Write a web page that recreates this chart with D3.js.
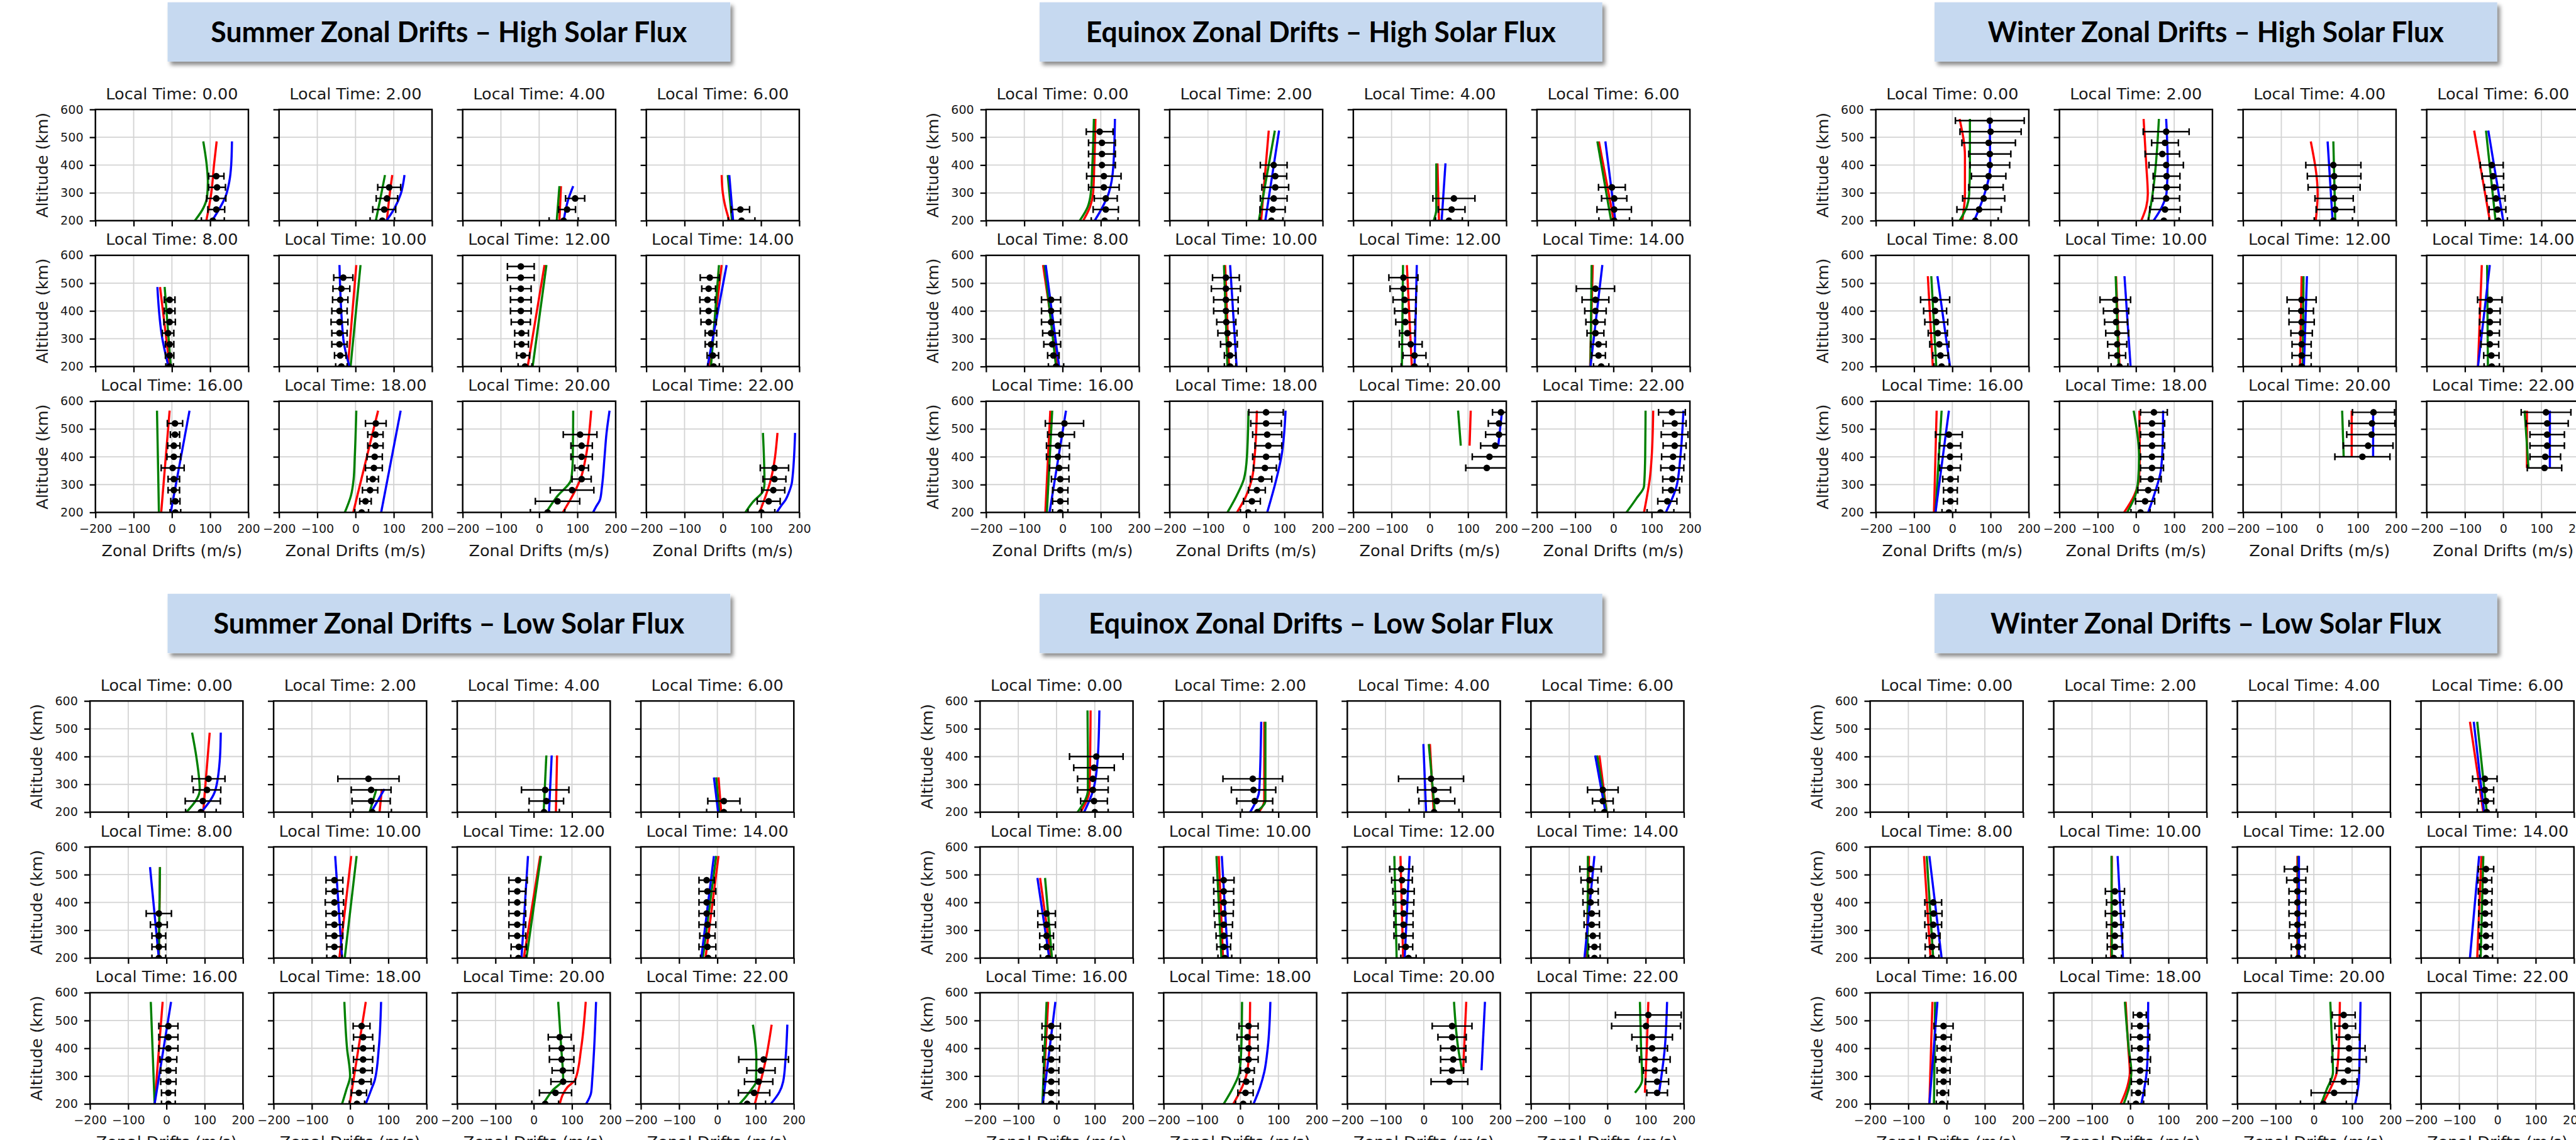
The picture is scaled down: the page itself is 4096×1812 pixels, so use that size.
<!DOCTYPE html>
<html>
<head>
<meta charset="utf-8">
<script src="https://cdn.jsdelivr.net/npm/d3@7"></script>
<style>
  body { margin: 0; background: #fff; }
  svg { display: block; }
</style>
</head>
<body>
<div id="chart"></div>
<script>
// chart data (altitude km, zonal drift m/s)
const localTimes = [0, 2, 4, 6, 8, 10, 12, 14, 16, 18, 20, 22];
const xTicks = [-200, -100, 0, 100, 200];
const yTicks = [200, 300, 400, 500, 600];
const panelTitles = [
  'Summer Zonal Drifts \u2013 High Solar Flux',
  'Equinox Zonal Drifts \u2013 High Solar Flux',
  'Winter Zonal Drifts \u2013 High Solar Flux',
  'Summer Zonal Drifts \u2013 Low Solar Flux',
  'Equinox Zonal Drifts \u2013 Low Solar Flux',
  'Winter Zonal Drifts \u2013 Low Solar Flux'
];

// ---- Summer, high flux
const summerHighRed = [
  [[200,90],[300,103],[400,110],[485,117]],
  [[200,82],[280,88],[364,96]],
  [[200,53],[324,57]],
  [[200,17],[260,5],[300,0],[364,-3]],
  [[200,-6],[486,-31]],
  [[200,-20],[565,2]],
  [[200,-30],[565,14]],
  [[200,-34],[565,-3]],
  [[200,-28],[566,-6]],
  [[200,-6],[566,59]],
  [[200,62],[262,88],[320,108],[400,122],[566,136]],
  [[200,96],[310,124],[486,143]]
];
const summerHighGreen = [
  [[200,60],[245,82],[286,92],[340,94],[400,91],[485,82]],
  [[200,53],[280,65],[364,77]],
  [[200,46],[324,53]],
  [[200,24],[364,13]],
  [[200,-3],[486,-19]],
  [[200,-13],[565,13]],
  [[200,-17],[565,19]],
  [[200,-31],[565,-10]],
  [[200,-34],[350,-36],[566,-39]],
  [[200,-28],[260,-12],[320,-5],[400,-2],[566,2]],
  [[200,18],[256,46],[320,84],[400,88],[566,89]],
  [[200,59],[238,79],[276,105],[303,109],[486,105]]
];
const summerHighBlue = [
  [[200,105],[245,125],[286,140],[340,150],[400,155],[485,157]],
  [[200,81],[245,102],[295,118],[364,128]],
  [[200,64],[276,76],[324,89]],
  [[200,27],[364,17]],
  [[200,-9],[300,-25],[486,-38]],
  [[200,-16],[300,-32],[565,-42]],
  null,
  [[200,-40],[565,10]],
  [[200,-3],[566,46]],
  [[200,67],[566,118]],
  [[200,141],[221,149],[245,159],[290,164],[400,171],[483,176],[566,184]],
  [[200,141],[221,151],[245,164],[276,174],[310,181],[486,189]]
];
const summerHighObs = [
  [[200,107,30],[240,116,22],[280,116,25],[320,118,22],[360,116,20]],
  [[200,70,32],[240,75,30],[280,82,28],[320,88,30]],
  [[200,64,38],[240,73,22],[280,94,25]],
  [[200,49,35],[240,46,24]],
  [[200,-6,10],[240,-6,11],[280,-6,11],[320,-10,15],[360,-6,15],[400,-6,14],[440,-6,14]],
  [[200,-37,15],[240,-40,15],[280,-42,20],[320,-42,20],[360,-42,22],[400,-42,20],[440,-40,20],[480,-37,22],[520,-32,25]],
  [[200,-37,18],[240,-42,17],[280,-46,18],[320,-46,18],[360,-48,25],[400,-48,27],[440,-48,27],[480,-48,27],[520,-48,35],[560,-48,35]],
  [[200,-24,15],[240,-26,15],[280,-31,15],[320,-31,15],[360,-37,20],[400,-37,22],[440,-40,20],[480,-37,18],[520,-34,25]],
  [[200,9,14],[240,9,12],[280,5,15],[320,5,15],[360,2,30],[400,5,18],[440,5,16],[480,8,12],[520,8,20]],
  [[200,16,18],[240,26,15],[280,38,20],[320,45,15],[360,48,22],[400,50,20],[440,52,20],[480,52,20],[520,53,27]],
  [[200,22,45],[240,48,58],[280,86,57],[320,111,25],[360,111,18],[400,111,28],[440,111,28],[480,107,44]],
  [[200,101,35],[240,120,30],[280,132,30],[320,135,30],[360,135,37]]
];

// ---- Equinox, high flux
const equinoxHighRed = [
  [[200,54],[250,72],[300,80],[400,83],[566,86]],
  [[200,39],[524,59]],
  [[200,24],[406,20]],
  [[200,1],[485,-38]],
  [[200,-12],[565,-51]],
  [[200,-45],[565,-55]],
  [[200,-47],[565,-60]],
  [[200,-61],[565,-54]],
  [[200,-45],[566,-32]],
  [[200,-24],[260,0],[320,15],[400,22],[566,28]],
  [[440,104],[566,107]],
  [[200,80],[260,88],[320,95],[400,100],[566,104]]
];
const equinoxHighGreen = [
  [[200,45],[250,66],[300,74],[400,78],[566,82]],
  [[200,33],[524,75]],
  [[200,10],[240,17],[406,17]],
  [[200,-6],[485,-42]],
  [[200,-17],[565,-47]],
  [[200,-49],[565,-58]],
  [[200,-73],[565,-70]],
  [[200,-60],[565,-57]],
  [[200,-41],[566,-27]],
  [[200,-49],[260,-25],[320,-6],[400,2],[566,6]],
  [[440,81],[566,74]],
  [[200,34],[250,60],[294,80],[400,83],[566,84]]
];
const equinoxHighBlue = [
  [[200,84],[250,105],[300,121],[400,133],[566,137]],
  [[200,50],[524,86]],
  [[200,31],[406,41]],
  [[200,5],[485,-21]],
  [[200,-9],[565,-44]],
  [[200,-25],[565,-42]],
  [[200,-40],[565,-34]],
  [[200,-60],[565,-29]],
  [[200,-34],[566,9]],
  [[200,55],[320,79],[400,92],[566,103]],
  [[440,179],[566,189]],
  [[200,137],[294,165],[400,175],[566,183]]
];
const equinoxHighObs = [
  [[200,110,35],[240,113,33],[280,113,30],[320,108,40],[360,108,45],[400,103,35],[440,103,35],[480,103,35],[520,97,35]],
  [[200,66,30],[240,69,33],[280,72,35],[320,76,35],[360,76,30],[400,72,35]],
  [[200,50,35],[240,57,35],[280,63,55]],
  [[200,2,40],[240,2,45],[280,2,33],[320,-4,35]],
  [[200,-17,20],[240,-24,15],[280,-27,22],[320,-30,22],[360,-30,25],[400,-30,25],[440,-30,25]],
  [[200,-42,15],[240,-42,15],[280,-45,22],[320,-49,25],[360,-52,25],[400,-53,32],[440,-53,32],[480,-53,38],[520,-53,35]],
  [[200,-40,35],[240,-40,30],[280,-50,30],[320,-59,20],[360,-64,25],[400,-64,28],[440,-66,30],[480,-69,35],[520,-69,38]],
  [[200,-32,20],[240,-39,18],[280,-39,20],[320,-47,22],[360,-47,25],[400,-47,28],[440,-47,35],[480,-47,50]],
  [[200,-6,20],[240,-6,20],[280,-6,20],[320,-6,23],[360,-9,25],[400,-12,30],[440,-12,30],[480,-4,35],[520,5,50]],
  [[200,5,20],[240,15,22],[280,28,22],[320,39,28],[360,49,30],[400,52,35],[440,58,35],[480,55,38],[520,52,40],[560,52,45]],
  [[360,149,55],[400,156,45],[440,171,38],[480,181,35],[520,181,28],[560,186,22]],
  [[200,123,35],[240,141,25],[280,151,22],[320,154,25],[360,154,30],[400,156,30],[440,160,30],[480,160,35],[520,160,30],[560,153,35]]
];

// ---- Winter, high flux
const winterHighRed = [
  [[200,26],[295,33],[432,33],[566,19]],
  [[200,14],[250,27],[295,31],[400,27],[566,20]],
  [[200,-10],[295,-5],[485,-23]],
  [[200,-35],[524,-76]],
  [[200,-51],[525,-64]],
  [[200,-43],[525,-52]],
  [[200,-51],[525,-47]],
  [[200,-66],[565,-56]],
  [[200,-48],[566,-41]],
  [[200,-31],[260,-5],[320,8],[400,10],[566,9]],
  [[400,84],[566,84]],
  [[360,62],[566,62]]
];
const winterHighGreen = [
  [[200,19],[250,38],[295,44],[400,46],[566,46]],
  [[200,32],[300,44],[566,60]],
  [[200,41],[485,36]],
  [[200,-20],[524,-45]],
  [[200,-42],[525,-55]],
  [[200,-45],[525,-53]],
  [[200,-44],[525,-42]],
  [[200,-40],[565,-42]],
  [[200,-44],[566,-28]],
  [[200,-23],[260,-2],[320,6],[400,8],[566,-6]],
  [[400,63],[566,59]],
  [[360,66],[566,56]]
];
const winterHighBlue = [
  [[200,57],[295,84],[395,99],[566,98]],
  [[200,46],[250,68],[300,80],[400,83],[566,79]],
  [[200,34],[485,21]],
  [[200,0],[524,-39]],
  [[200,-6],[525,-39]],
  [[200,-14],[525,-30]],
  [[200,-41],[525,-33]],
  [[200,-66],[565,-35]],
  [[200,-44],[566,-9]],
  [[200,32],[269,49],[350,65],[450,70],[566,71]],
  [[400,140],[566,140]],
  [[360,122],[566,122]]
];
const winterHighObs = [
  [[200,60,60],[240,70,58],[280,82,55],[320,88,45],[360,95,45],[400,98,52],[440,98,55],[480,95,70],[520,100,80],[560,98,90]],
  [[200,73,40],[240,76,40],[280,79,35],[320,80,35],[360,80,35],[400,79,45],[440,69,45],[480,76,35],[520,79,60]],
  [[200,36,50],[240,41,50],[280,38,50],[320,38,68],[360,38,70],[400,36,72]],
  [[200,-13,24],[240,-15,22],[280,-19,24],[320,-24,25],[360,-27,28],[400,-30,30]],
  [[200,-28,20],[240,-31,20],[280,-34,25],[320,-38,25],[360,-42,30],[400,-45,30],[440,-45,38]],
  [[200,-43,22],[240,-49,22],[280,-49,25],[320,-49,30],[360,-52,30],[400,-52,33],[440,-54,40]],
  [[200,-47,25],[240,-47,25],[280,-47,25],[320,-47,28],[360,-47,33],[400,-48,32],[440,-47,38]],
  [[200,-30,20],[240,-31,20],[280,-35,23],[320,-35,25],[360,-35,27],[400,-35,27],[440,-35,32]],
  [[200,-9,18],[240,-5,18],[280,-5,18],[320,-5,20],[360,-6,27],[400,-6,30],[440,-6,28],[480,-9,35]],
  [[200,12,25],[240,24,25],[280,32,27],[320,39,27],[360,42,30],[400,42,30],[440,42,33],[480,42,30],[520,42,33],[560,47,35]],
  [[400,112,72],[440,127,65],[480,136,65],[520,137,60],[560,141,55]],
  [[360,108,45],[400,110,40],[440,115,45],[480,115,45],[520,115,55],[560,112,65]]
];

// ---- Summer, low flux
const summerLowRed = [
  [[200,96],[486,113]],
  [[200,77],[283,83]],
  [[200,58],[404,61]],
  [[200,10],[325,3]],
  [[200,-20],[527,-17]],
  [[200,-28],[567,3]],
  [[200,-26],[567,17]],
  [[200,-31],[567,3]],
  [[200,-31],[567,-10]],
  [[200,-1],[567,41]],
  [[200,68],[260,88],[288,109],[400,124],[567,136]],
  [[200,98],[362,127],[485,142]]
];
const summerLowGreen = [
  [[200,52],[280,87],[400,78],[486,67]],
  [[200,51],[283,69]],
  [[200,26],[404,33]],
  [[200,5],[325,-3]],
  [[200,-20],[527,-17]],
  [[200,-14],[567,17]],
  [[200,-19],[567,19]],
  [[200,-38],[567,-3]],
  [[200,-31],[567,-41]],
  [[200,-21],[250,-10],[301,0],[400,-8],[567,-15]],
  [[200,25],[250,50],[288,77],[400,72],[567,64]],
  [[200,58],[225,74],[252,89],[280,101],[362,102],[485,93]]
];
const summerLowBlue = [
  [[200,91],[280,128],[400,140],[486,142]],
  [[200,55],[283,90]],
  [[200,40],[404,47]],
  [[200,2],[325,-9]],
  [[200,-20],[527,-43]],
  [[200,-21],[567,-39]],
  [[200,-32],[567,-15]],
  [[200,-42],[567,-9]],
  [[200,-31],[567,12]],
  [[200,41],[250,55],[288,65],[400,75],[567,81]],
  [[200,137],[240,150],[288,153],[400,158],[567,163]],
  [[200,140],[242,162],[280,172],[356,178],[485,183]]
];
const summerLowObs = [
  [[200,90,40],[240,95,46],[280,106,36],[320,110,43]],
  [[200,58,50],[240,55,50],[280,55,52],[320,48,80]],
  [[200,27,40],[240,33,45],[280,30,62]],
  [[200,17,45],[240,17,42]],
  [[200,-20,18],[240,-20,18],[280,-20,18],[320,-20,22],[360,-20,33]],
  [[200,-41,20],[240,-41,20],[280,-41,22],[320,-41,22],[360,-41,22],[400,-41,24],[440,-41,22],[480,-41,22]],
  [[200,-40,20],[240,-39,20],[280,-43,22],[320,-43,22],[360,-43,22],[400,-43,22],[440,-43,22],[480,-41,24]],
  [[200,-24,20],[240,-26,22],[280,-26,20],[320,-26,22],[360,-28,20],[400,-28,20],[440,-26,22],[480,-28,20]],
  [[200,5,18],[240,5,18],[280,5,20],[320,5,20],[360,5,22],[400,5,25],[440,5,25],[480,5,25]],
  [[200,18,20],[240,23,20],[280,30,25],[320,33,25],[360,34,25],[400,34,28],[440,34,25],[480,30,22]],
  [[200,30,35],[240,57,42],[280,77,32],[320,76,28],[360,73,32],[400,73,32],[440,68,30]],
  [[200,78,48],[240,96,41],[280,108,37],[320,114,37],[360,121,65]]
];

// ---- Equinox, low flux
const equinoxLowRed = [
  [[200,63],[280,86],[400,88],[566,89]],
  [[200,49],[241,63],[525,63]],
  [[200,26],[445,16]],
  [[200,-2],[404,-21]],
  [[200,-14],[488,-43]],
  [[200,-45],[567,-56]],
  [[200,-54],[567,-61]],
  [[200,-55],[567,-48]],
  [[200,-36],[567,-22]],
  [[200,-18],[260,5],[314,18],[400,24],[567,26]],
  [[321,103],[567,111]],
  [[240,98],[400,103],[567,107]]
];
const equinoxLowGreen = [
  [[200,55],[280,82],[400,82],[566,81]],
  [[200,41],[241,66],[525,66]],
  [[200,29],[445,13]],
  [[200,-2],[404,-27]],
  [[200,-12],[488,-30]],
  [[200,-49],[567,-62]],
  [[200,-71],[567,-77]],
  [[200,-52],[567,-51]],
  [[200,-37],[567,-26]],
  [[200,-43],[260,-18],[314,-2],[400,3],[567,5]],
  [[321,100],[400,90],[567,79]],
  [[240,72],[288,91],[400,88],[567,85]]
];
const equinoxLowBlue = [
  [[200,72],[280,96],[400,108],[566,112]],
  [[200,26],[280,50],[525,55]],
  [[200,6],[445,-1]],
  [[200,-5],[404,-32]],
  [[200,-19],[488,-50]],
  [[200,-32],[567,-48]],
  [[200,-50],[567,-37]],
  [[200,-60],[567,-34]],
  [[200,-36],[567,-3]],
  [[200,35],[260,52],[314,63],[400,72],[567,79]],
  [[321,151],[567,160]],
  [[240,135],[400,150],[567,156]]
];
const equinoxLowObs = [
  [[200,100,35],[240,98,35],[280,95,40],[320,95,40],[360,98,53],[400,104,70]],
  [[200,45,40],[240,38,47],[280,35,58],[320,33,78]],
  [[200,27,65],[240,34,47],[280,27,43],[320,19,85]],
  [[200,-8,25],[240,-12,27],[280,-12,40]],
  [[200,-22,20],[240,-26,18],[280,-26,18],[320,-26,23],[360,-26,23]],
  [[200,-40,18],[240,-43,18],[280,-43,20],[320,-43,23],[360,-43,25],[400,-43,26],[440,-43,26],[480,-43,27]],
  [[200,-40,20],[240,-47,18],[280,-53,25],[320,-53,25],[360,-53,25],[400,-53,27],[440,-53,28],[480,-57,27],[520,-59,30]],
  [[200,-34,15],[240,-34,15],[280,-38,18],[320,-41,20],[360,-41,20],[400,-44,20],[440,-44,20],[480,-47,22],[520,-44,28]],
  [[200,-14,20],[240,-14,20],[280,-14,20],[320,-14,20],[360,-14,22],[400,-14,22],[440,-14,24],[480,-14,24]],
  [[200,8,20],[240,14,20],[280,16,18],[320,19,18],[360,22,25],[400,22,25],[440,19,27],[480,22,25]],
  [[280,67,48],[320,74,30],[360,77,33],[400,77,33],[440,74,37],[480,74,52]],
  [[240,130,27],[280,130,30],[320,124,30],[360,124,40],[400,117,40],[440,117,53],[480,101,90],[520,107,86]]
];

// ---- Winter, low flux
const winterLowRed = [
  null, null, null,
  [[200,-37],[525,-72]],
  [[200,-42],[567,-59]],
  [[200,-50],[567,-48]],
  [[200,-43],[567,-43]],
  [[200,-53],[567,-42]],
  [[200,-45],[567,-37]],
  [[200,-25],[260,-8],[314,-1],[400,-5],[567,-12]],
  [[200,23],[260,45],[314,60],[400,65],[567,68]],
  null
];
const winterLowGreen = [
  null, null, null,
  [[200,-28],[525,-53]],
  [[200,-35],[567,-52]],
  [[200,-48],[567,-49]],
  [[200,-41],[567,-41]],
  [[200,-44],[567,-37]],
  [[200,-33],[567,-30]],
  [[200,-17],[260,-3],[314,3],[400,-4],[567,-14]],
  [[200,19],[250,33],[314,50],[400,48],[567,43]],
  null
];
const winterLowBlue = [
  null, null, null,
  [[200,-35],[525,-62]],
  [[200,-13],[567,-45]],
  [[200,-19],[567,-33]],
  [[200,-39],[567,-39]],
  [[200,-72],[567,-48]],
  [[200,-45],[567,-24]],
  [[200,29],[314,43],[400,46],[567,47]],
  [[200,108],[288,118],[400,120],[567,122]],
  null
];
const winterLowObs = [
  null, null, null,
  [[200,-28,25],[240,-30,20],[280,-33,23],[320,-33,32]],
  [[200,-38,18],[240,-38,18],[280,-35,18],[320,-35,22],[360,-34,22],[400,-35,22]],
  [[200,-43,20],[240,-40,20],[280,-40,20],[320,-40,22],[360,-40,25],[400,-40,22],[440,-40,25]],
  [[200,-41,18],[240,-41,18],[280,-43,22],[320,-43,20],[360,-43,22],[400,-43,22],[440,-43,22],[480,-46,25],[520,-47,30]],
  [[200,-30,17],[240,-30,17],[280,-30,17],[320,-32,17],[360,-32,17],[400,-32,17],[440,-32,18],[480,-33,18],[520,-30,20]],
  [[200,-12,15],[240,-10,15],[280,-8,17],[320,-8,17],[360,-8,20],[400,-8,17],[440,-8,20],[480,-8,25]],
  [[200,15,20],[240,21,17],[280,25,22],[320,26,25],[360,26,27],[400,26,22],[440,26,25],[480,26,22],[520,25,17]],
  [[200,25,60],[240,53,60],[280,78,35],[320,89,30],[360,92,45],[400,92,42],[440,89,30],[480,82,27],[520,78,30]],
  null
];

// ---- layout (reference pixel space, scaled by the viewBox)
const fullW = 4495, fullH = 1989;
const W = 267, H = 194, colStep = 320.5, rowStep = 254.5;
const panelLeft = [166, 1720.5, 3273.5, 156.5, 1710, 3263.5];
const panelTop = [191, 191, 191, 1223, 1223, 1223];
const boxLeft = [292, 1814, 3376, 292, 1814, 3376];
const boxTop = [4, 4, 4, 1036, 1036, 1036];
const boxW = 982, boxH = 103.5;
const titleW = [831, 820, 796, 822, 811, 787];

const panels = [
  [summerHighRed, summerHighGreen, summerHighBlue, summerHighObs],
  [equinoxHighRed, equinoxHighGreen, equinoxHighBlue, equinoxHighObs],
  [winterHighRed, winterHighGreen, winterHighBlue, winterHighObs],
  [summerLowRed, summerLowGreen, summerLowBlue, summerLowObs],
  [equinoxLowRed, equinoxLowGreen, equinoxLowBlue, equinoxLowObs],
  [winterLowRed, winterLowGreen, winterLowBlue, winterLowObs]
];
const lineColors = ['#ff0000', '#008000', '#0000ff'];
const FONT = 'DejaVu Sans';

const svg = d3.select('#chart').append('svg')
  .attr('width', 4096).attr('height', 1812)
  .attr('viewBox', `0 0 ${fullW} ${fullH}`);

svg.append('rect').attr('width', fullW).attr('height', fullH).attr('fill', '#fff');

const defs = svg.append('defs');
defs.append('filter').attr('id', 'shadow')
  .attr('x', '-5%').attr('y', '-20%').attr('width', '115%').attr('height', '150%')
  .append('feDropShadow')
  .attr('dx', 5).attr('dy', 6).attr('stdDeviation', 3.5)
  .attr('flood-color', '#000').attr('flood-opacity', 0.45);
defs.append('clipPath').attr('id', 'axclip')
  .append('rect').attr('width', W).attr('height', H);

const x = d3.scaleLinear().domain([-200, 200]).range([0, W]);
const y = d3.scaleLinear().domain([200, 600]).range([H, 0]);

const line = d3.line()
  .x(d => x(d[1]))
  .y(d => y(d[0]))
  .curve(d3.curveMonotoneY);

const fmt = d3.format('d');

panels.forEach((p, pi) => {
  // title box
  svg.append('rect')
    .attr('x', boxLeft[pi]).attr('y', boxTop[pi])
    .attr('width', boxW).attr('height', boxH)
    .attr('fill', '#c6d9f0')
    .attr('filter', 'url(#shadow)');
  svg.append('text')
    .attr('x', boxLeft[pi] + boxW / 2)
    .attr('y', boxTop[pi] + boxH / 2 + 18)
    .attr('text-anchor', 'middle')
    .attr('font-family', 'Lato, "Open Sans", sans-serif')
    .attr('font-weight', 700)
    .attr('font-size', 51)
    .attr('textLength', titleW[pi])
    .attr('lengthAdjust', 'spacingAndGlyphs')
    .attr('fill', '#000')
    .text(panelTitles[pi]);

  const [reds, greens, blues, obs] = p;

  localTimes.forEach((lt, i) => {
    const r = Math.floor(i / 4), c = i % 4;
    const g = svg.append('g')
      .attr('transform', `translate(${panelLeft[pi] + c * colStep},${panelTop[pi] + r * rowStep})`);

    // grid
    g.append('g').selectAll('line.vx').data(xTicks).join('line')
      .attr('x1', d => x(d)).attr('x2', d => x(d))
      .attr('y1', 0).attr('y2', H)
      .attr('stroke', '#d3d3d3').attr('stroke-width', 2);
    g.append('g').selectAll('line.hy').data(yTicks).join('line')
      .attr('x1', 0).attr('x2', W)
      .attr('y1', d => y(d)).attr('y2', d => y(d))
      .attr('stroke', '#d3d3d3').attr('stroke-width', 2);

    const plot = g.append('g').attr('clip-path', 'url(#axclip)');

    [reds[i], greens[i], blues[i]].forEach((ln, k) => {
      if (!ln) return;
      const pts = ln.slice().sort((a, b) => b[0] - a[0]);
      plot.append('path')
        .attr('d', line(pts))
        .attr('fill', 'none')
        .attr('stroke', lineColors[k])
        .attr('stroke-width', 3.8);
    });

    const o = obs[i];
    if (o) {
      const eb = plot.append('g').attr('stroke', '#000').attr('stroke-width', 2.7);
      eb.selectAll('line.bar').data(o).join('line')
        .attr('x1', d => x(d[1] - d[2])).attr('x2', d => x(d[1] + d[2]))
        .attr('y1', d => y(d[0])).attr('y2', d => y(d[0]));
      eb.selectAll('line.capl').data(o).join('line')
        .attr('x1', d => x(d[1] - d[2])).attr('x2', d => x(d[1] - d[2]))
        .attr('y1', d => y(d[0]) - 6).attr('y2', d => y(d[0]) + 6);
      eb.selectAll('line.capr').data(o).join('line')
        .attr('x1', d => x(d[1] + d[2])).attr('x2', d => x(d[1] + d[2]))
        .attr('y1', d => y(d[0]) - 6).attr('y2', d => y(d[0]) + 6);
      plot.append('g').selectAll('circle').data(o).join('circle')
        .attr('cx', d => x(d[1])).attr('cy', d => y(d[0]))
        .attr('r', 5.8).attr('fill', '#000');
    }

    // axes
    const ax = g.append('g')
      .attr('transform', `translate(0,${H})`)
      .call(d3.axisBottom(x).tickValues(xTicks).tickSize(10).tickSizeOuter(0)
        .tickPadding(11).tickFormat(r === 2 ? fmt : () => ''));
    const ay = g.append('g')
      .call(d3.axisLeft(y).tickValues(yTicks).tickSize(10).tickSizeOuter(0)
        .tickPadding(11).tickFormat(c === 0 ? fmt : () => ''));
    [ax, ay].forEach(a => {
      a.attr('font-family', FONT).attr('font-size', 21);
      a.select('.domain').attr('stroke', 'none');
      a.selectAll('.tick line').attr('stroke', '#000').attr('stroke-width', 2.5);
      a.selectAll('.tick text').attr('fill', '#1a1a1a');
    });

    g.append('rect')
      .attr('width', W).attr('height', H)
      .attr('fill', 'none').attr('stroke', '#000').attr('stroke-width', 2.7);

    // labels
    g.append('text')
      .attr('x', W / 2).attr('y', -18)
      .attr('text-anchor', 'middle')
      .attr('font-family', FONT).attr('font-size', 28)
      .attr('fill', '#1a1a1a')
      .text(`Local Time: ${lt.toFixed(2)}`);

    if (r === 2) {
      g.append('text')
        .attr('x', W / 2).attr('y', H + 76)
        .attr('text-anchor', 'middle')
        .attr('font-family', FONT).attr('font-size', 28)
        .attr('fill', '#1a1a1a')
        .text('Zonal Drifts (m/s)');
    }
    if (c === 0) {
      g.append('text')
        .attr('transform', `translate(-83,${H / 2}) rotate(-90)`)
        .attr('text-anchor', 'middle')
        .attr('font-family', FONT).attr('font-size', 28)
        .attr('fill', '#1a1a1a')
        .text('Altitude (km)');
    }
  });
});
</script>
</body>
</html>
